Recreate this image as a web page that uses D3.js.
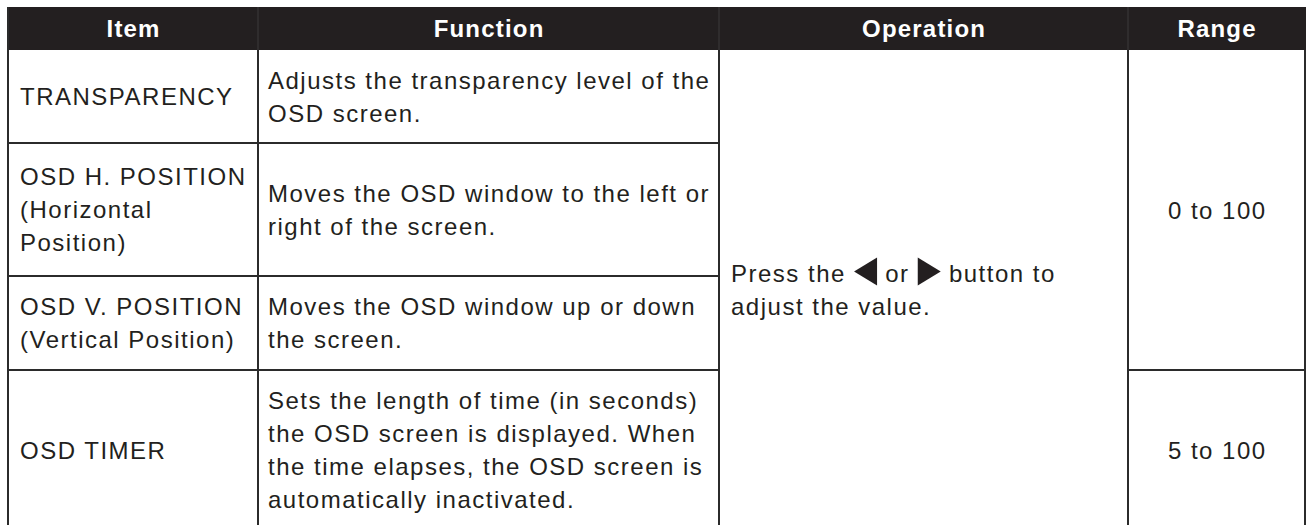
<!DOCTYPE html>
<html><head><meta charset="utf-8">
<script src="https://cdn.jsdelivr.net/npm/d3@7/dist/d3.min.js"></script>
<style>html,body{margin:0;padding:0;background:#fff;overflow:hidden}</style>
</head><body><svg id="c" width="1306" height="525"></svg>
<script>
// ---- data ----
const headers = ["Item", "Function", "Operation", "Range"];
const items = [
  ["TRANSPARENCY"],
  ["OSD H. POSITION", "(Horizontal", "Position)"],
  ["OSD V. POSITION", "(Vertical Position)"],
  ["OSD TIMER"]
];
const functions = [
  ["Adjusts the transparency level of the", "OSD screen."],
  ["Moves the OSD window to the left or", "right of the screen."],
  ["Moves the OSD window up or down", "the screen."],
  ["Sets the length of time (in seconds)", "the OSD screen is displayed. When", "the time elapses, the OSD screen is", "automatically inactivated."]
];
const operationLine1 = ["Press the ", "◀", " or ", "▶", " button to"];
const operationLine2 = "adjust the value.";
const rangeLabels = ["0 to 100", "5 to 100"];
const rangeSpans = [[0, 2], [3, 3]];

// ---- layout ----
const colEdges = [8, 258, 719, 1128, 1305];
const rowEdges = [7, 50, 143, 276, 370, 530];
const FS = 24, LS = 1.5, LH = 33, CAP = 0.716 * FS / 2;
const ink = "#231f20", lineCol = "#2b2b2b";

const x = d3.scaleLinear().domain(d3.range(colEdges.length)).range(colEdges);
const y = d3.scaleLinear().domain(d3.range(-1, rowEdges.length - 1)).range(rowEdges);

const svg = d3.select("#c");
const font = "'Liberation Sans', Arial, Helvetica, sans-serif";

// header
svg.append("rect").attr("x", x(0) - 1).attr("y", y(-1)).attr("width", x(4) - x(0) + 2).attr("height", y(0) - y(-1)).attr("fill", ink);
svg.append("g").selectAll("line").data([1, 2, 3]).join("line")
  .attr("x1", d => x(d)).attr("x2", d => x(d)).attr("y1", y(-1)).attr("y2", y(0))
  .attr("stroke", "#3d3a3b").attr("stroke-width", 1);
svg.append("g").selectAll("text").data(headers).join("text")
  .attr("x", (d, i) => (x(i) + x(i + 1)) / 2 + 0.6)
  .attr("y", (y(-1) + y(0)) / 2 + CAP)
  .attr("text-anchor", "middle")
  .attr("fill", "#fff").attr("font-weight", "bold")
  .attr("font-family", font).attr("font-size", FS)
  .style("letter-spacing", "1.2px")
  .text(d => d);

// text helper
function lines(g, arr, xp, cy, anchor) {
  const n = arr.length;
  g.selectAll(null).data(arr).join("text")
    .attr("x", anchor === "middle" ? xp + LS / 2 : xp)
    .attr("y", (d, i) => cy + (i - (n - 1) / 2) * LH + CAP)
    .attr("text-anchor", anchor)
    .attr("fill", ink)
    .attr("font-family", font).attr("font-size", FS)
    .style("letter-spacing", LS + "px")
    .text(d => d);
}

const body = svg.append("g");
items.forEach((arr, r) => {
  const cy = (y(r) + y(r + 1)) / 2;
  lines(body.append("g"), arr, x(0) + 12, cy, "start");
  lines(body.append("g"), functions[r], x(1) + 10, cy, "start");
});
rangeSpans.forEach((s, k) => {
  const cy = (y(s[0]) + y(s[1] + 1)) / 2;
  lines(body.append("g"), [rangeLabels[k]], (x(3) + x(4)) / 2, cy, "middle");
});

// operation cell
const opCy = (y(0) + y(4)) / 2;
const b1 = opCy - LH / 2 + CAP, b2 = opCy + LH / 2 + CAP;
let cx = x(2) + 12;
const op = body.append("g");
const TW = 23, TT = 24.5, TB = 3.4;
operationLine1.forEach(tok => {
  if (tok === "◀" || tok === "▶") {
    const top = b1 - TT, bot = b1 + TB, mid = (top + bot) / 2;
    const pts = tok === "◀" ? [[cx + TW, top], [cx + TW, bot], [cx, mid]] : [[cx, top], [cx, bot], [cx + TW, mid]];
    op.append("path").attr("d", d3.line()(pts) + "Z").attr("fill", ink)
      .append("title").text(tok);
    cx += TW;
  } else {
    const t = op.append("text").attr("x", cx).attr("y", b1)
      .attr("fill", ink).attr("font-family", font).attr("font-size", FS)
      .style("letter-spacing", LS + "px").style("white-space", "pre")
      .attr("xml:space", "preserve").text(tok);
    cx += t.node().getComputedTextLength();
  }
});
op.append("text").attr("x", x(2) + 12).attr("y", b2)
  .attr("fill", ink).attr("font-family", font).attr("font-size", FS)
  .style("letter-spacing", LS + "px")
  .text(operationLine2);

// grid lines
const grid = svg.append("g").attr("stroke", lineCol).attr("stroke-width", 2);
grid.append("line").attr("x1", x(0)).attr("x2", x(0)).attr("y1", y(-1)).attr("y2", y(4));
[1, 2, 3, 4].forEach(c => grid.append("line").attr("x1", x(c)).attr("x2", x(c)).attr("y1", y(0)).attr("y2", y(4)));
[1, 2, 3].forEach(r => grid.append("line").attr("x1", x(0) - 1).attr("x2", x(2) + 1).attr("y1", y(r)).attr("y2", y(r)));
grid.append("line").attr("x1", x(3) - 1).attr("x2", x(4) + 1).attr("y1", y(3)).attr("y2", y(3));
grid.append("line").attr("x1", x(0) - 1).attr("x2", x(4) + 1).attr("y1", y(4)).attr("y2", y(4));
</script></body></html>
